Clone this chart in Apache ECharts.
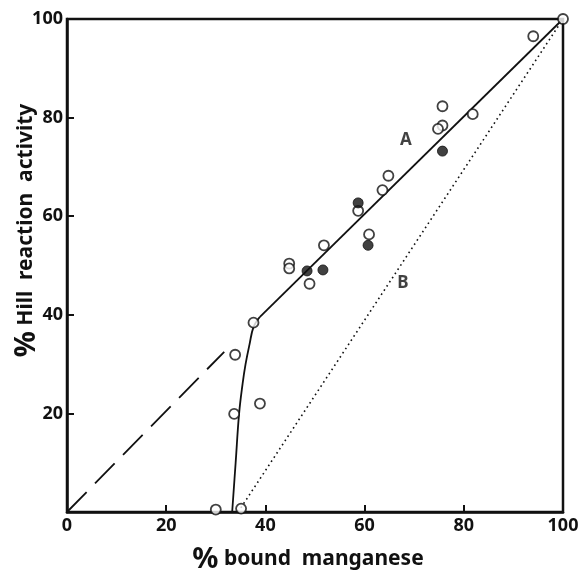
<!DOCTYPE html>
<html>
<head>
<meta charset="utf-8">
<script src="https://cdn.jsdelivr.net/npm/echarts@6/dist/echarts.min.js"></script>
<style>
  html, body { margin: 0; padding: 0; background: #fff; }
  #main { width: 579px; height: 576px; }
</style>
</head>
<body>
<div id="main"></div>
<script>
// 刻度
var xTicks = [0, 20, 40, 60, 80, 100];
var yTicks = [20, 40, 60, 80, 100];

// open circles
var openPoints = [
    [100, 100], [94, 96.5], [75.7, 82.3], [81.8, 80.7], [75.7, 78.4], [74.8, 77.7],
    [64.8, 68.2], [63.6, 65.3], [58.7, 61.1], [60.9, 56.3], [51.8, 54.1],
    [44.8, 50.4], [44.8, 49.4], [48.9, 46.3],
    [37.6, 38.4], [33.9, 31.9], [33.7, 19.9], [38.9, 22.0], [30.0, 0.5], [35.1, 0.7]
];

// filled circles
var filledPoints = [
    [75.7, 73.2], [58.7, 62.7], [60.7, 54.1], [48.4, 48.9], [51.6, 49.1]
];

// curve A (steep part) and straight part
var curveA = [[33.3, 0], [34.0, 10], [34.7, 20], [35.4, 26], [36.0, 30], [36.8, 34], [37.6, 37.5], [38.9, 39.6]];
var lineA = [[38.9, 39.6], [100, 100]];
var dashedLine = [[0, 0], [31.7, 32.5]];
var dottedB = [[34.5, 0], [100, 100]];

var curveLabels = [
    { name: 'A', value: [68.3, 75.5] },
    { name: 'B', value: [67.7, 46.5] }
];

var myChart = echarts.init(document.getElementById('main'));

var font = '"Noto Sans", "DejaVu Sans", sans-serif';

var option = {
    animation: false,
    backgroundColor: '#fff',
    grid: {
        left: 67, right: 16, top: 19, bottom: 64,
        containLabel: false, outerBoundsMode: 'none',
        show: true, borderColor: '#111', borderWidth: 2.5
    },
    xAxis: {
        type: 'value', min: 0, max: 100, interval: 20,
        name: '{p|%} bound  manganese',
        nameLocation: 'middle', nameGap: 33, nameMoveOverlap: false,
        nameTextStyle: {
            color: '#111', fontSize: 21, fontWeight: 'bold', fontFamily: font,
            padding: [0, 14, 0, 0],
            rich: { p: { fontSize: 29, fontWeight: 'bold', fontFamily: font, color: '#111' } }
        },
        axisLine: { lineStyle: { color: '#111', width: 2.5 } },
        axisTick: { inside: true, length: 7, lineStyle: { color: '#111', width: 2 } },
        axisLabel: {
            color: '#111', fontSize: 18, fontWeight: 'bold', fontFamily: font, margin: 5,
            customValues: xTicks
        },
        splitLine: { show: false }
    },
    yAxis: {
        type: 'value', min: 0, max: 100, interval: 20,
        name: '{p|%} Hill  reaction  activity',
        nameLocation: 'middle', nameGap: 26, nameRotate: 90, nameMoveOverlap: false,
        nameTextStyle: {
            color: '#111', fontSize: 21, fontWeight: 'bold', fontFamily: font,
            padding: [0, 0, 0, 70],
            rich: { p: { fontSize: 29, fontWeight: 'bold', fontFamily: font, color: '#111' } }
        },
        axisLine: { lineStyle: { color: '#111', width: 2.5 } },
        axisTick: { inside: true, length: 7, lineStyle: { color: '#111', width: 2 } },
        axisLabel: {
            color: '#111', fontSize: 18, fontWeight: 'bold', fontFamily: font, margin: 4,
            customValues: yTicks
        },
        splitLine: { show: false }
    },
    series: [
        {
            type: 'line', data: dashedLine, showSymbol: false, symbol: 'none',
            lineStyle: { color: '#111', width: 1.8, type: [28, 12] }, z: 2
        },
        {
            type: 'line', data: dottedB, showSymbol: false, symbol: 'none',
            lineStyle: { color: '#111', width: 1.6, type: [1.6, 3.4] }, z: 2
        },
        {
            type: 'line', data: curveA, showSymbol: false, symbol: 'none', smooth: 0.4,
            lineStyle: { color: '#111', width: 1.8 }, z: 2
        },
        {
            type: 'line', data: lineA, showSymbol: false, symbol: 'none',
            lineStyle: { color: '#111', width: 1.8 }, z: 2
        },
        {
            type: 'scatter', data: openPoints, symbol: 'circle', symbolSize: 10,
            itemStyle: { color: '#fff', borderColor: '#111', borderWidth: 1.8 }, z: 3
        },
        {
            type: 'scatter', data: filledPoints, symbol: 'circle', symbolSize: 10,
            itemStyle: { color: '#111', borderColor: '#111', borderWidth: 1 }, z: 3
        },
        {
            type: 'scatter', data: curveLabels, symbolSize: 0,
            label: {
                show: true, position: 'inside', formatter: '{b}',
                color: '#111', fontSize: 17, fontWeight: 'bold', fontFamily: font
            }, z: 4
        }
    ]
};

myChart.setOption(option);
</script>
</body>
</html>
